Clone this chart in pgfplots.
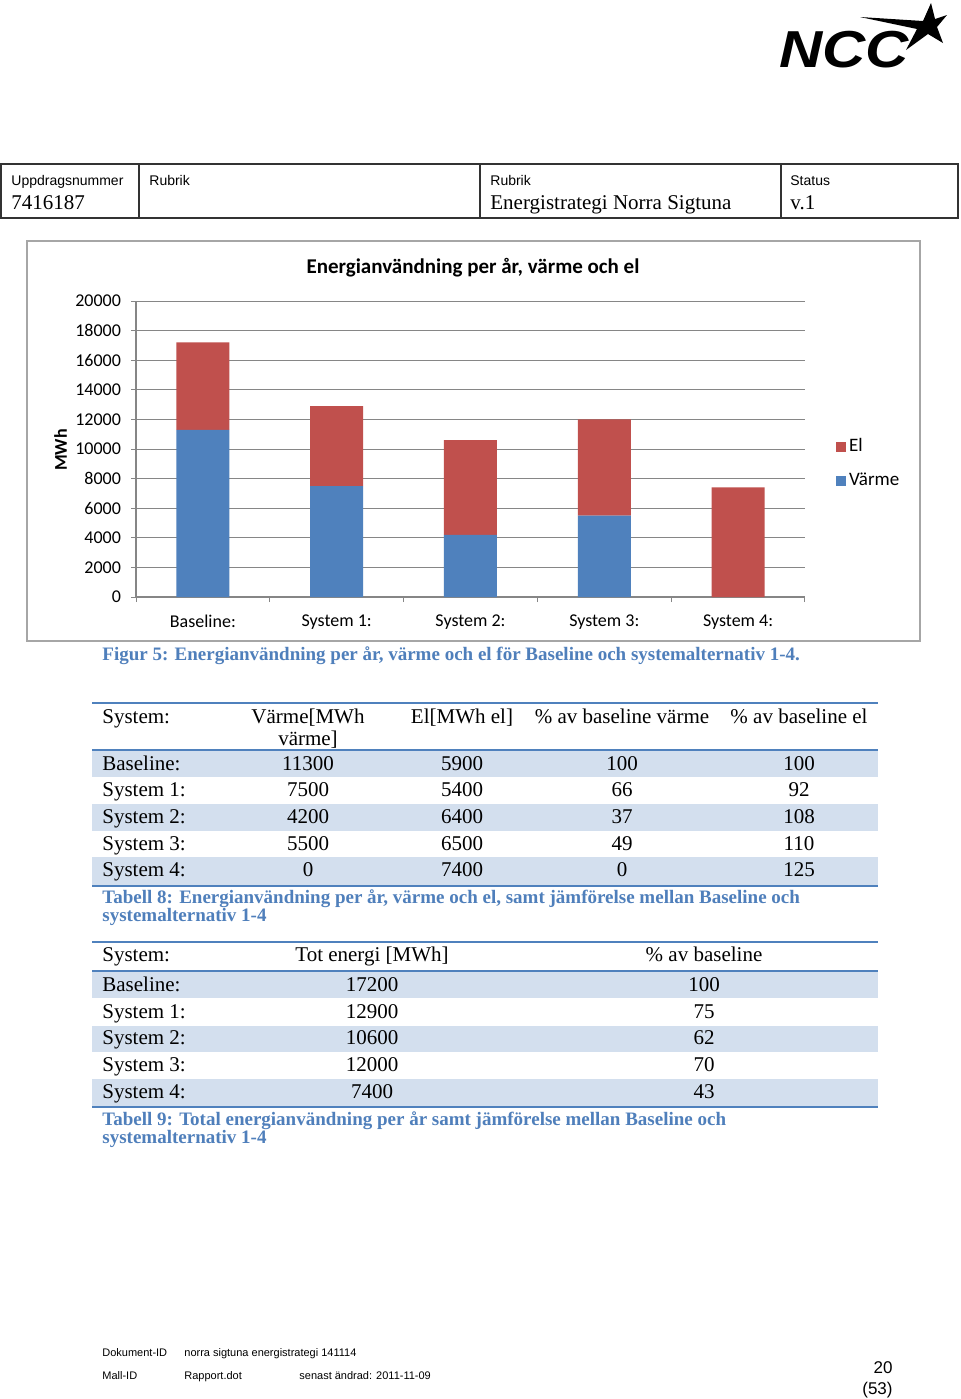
\documentclass[border=0pt]{standalone}
\usepackage{fontspec}
\setmainfont{Liberation Serif}
\newfontfamily\carlito{Carlito}
\newfontfamily\arial{Liberation Sans}
\usepackage{pgfplots}
\pgfplotsset{compat=1.18}
\definecolor{blueA}{HTML}{4F81BD}
\definecolor{redA}{HTML}{C0504D}
\definecolor{band}{HTML}{D3DFEE}
\definecolor{gridc}{HTML}{868686}
\definecolor{capc}{HTML}{4F7FBB}
\definecolor{framec}{HTML}{A6A6A6}
\newcommand\tabf{\fontsize{10.5pt}{12.5pt}\selectfont}
\newcommand\capf{\bfseries\fontsize{9.5pt}{11pt}\selectfont}
\begin{document}
\begin{tikzpicture}[x=0.5pt,y=-0.5pt,
  tn/.style={inner sep=0pt, text height=0.68em, text depth=0pt},
  tw/.style={tn, anchor=west},
  tc/.style={tn, anchor=center}]
\fill[white] (0,0) rectangle (960,1399);
% ---------- logo ----------
\node[anchor=base west, inner sep=0pt, font=\arial\bfseries\itshape\fontsize{26pt}{26pt}\selectfont, xscale=1.15] at (779,67) {NCC};
\fill[black] (860,17) -- (923,21) -- (931,3) -- (935,19) -- (947,15) -- (937,27) -- (943,43) -- (928,34) -- (906,50) -- (917,29) -- cycle;
% ---------- header table ----------
\draw[black!80, line width=0.65pt] (1,164) rectangle (958,218);
\draw[black!80, line width=0.65pt] (139,164) -- (139,218) (480,164) -- (480,218) (781,164) -- (781,218);
\begin{scope}[font=\arial\fontsize{7pt}{8pt}\selectfont]
\node[tw] at (11,179) {Uppdragsnummer};
\node[tw] at (149,179) {Rubrik};
\node[tw] at (490,179) {Rubrik};
\node[tw] at (790,179) {Status};
\end{scope}
\begin{scope}[font=\tabf]
\node[tw] at (11,203) {7416187};
\node[tw] at (490,203) {Energistrategi Norra Sigtuna};
\node[tw] at (790,203) {v.1};
\end{scope}
% ---------- chart frame ----------
\draw[framec, line width=0.7pt] (27,241) rectangle (920,641);
\node[tc, font=\carlito\bfseries\fontsize{10.5pt}{12pt}\selectfont] at (473,267) {Energianvändning per år, värme och el};
\node[tc, rotate=90, font=\carlito\bfseries\fontsize{9pt}{11pt}\selectfont] at (60,450) {MWh};
\begin{axis}[
  at={(68pt,-298.5pt)}, anchor=south west,
  scale only axis, width=334.5pt, height=148pt,
  ybar stacked, bar width=26.5pt,
  xmin=-0.5, xmax=4.5, ymin=0, ymax=20000,
  xtick={0,1,2,3,4},
  xticklabels={Baseline:,System 1:,System 2:,System 3:,System 4:},
  major x tick style={draw=none},
  extra x ticks={-0.5,0.5,1.5,2.5,3.5,4.5},
  extra x tick labels={},
  extra x tick style={major tick length=2.5pt, tick align=outside, major x tick style={draw=gridc}},
  ytick={0,2000,...,20000},
  ymajorgrids, grid style={gridc, line width=0.5pt},
  axis x line*=bottom, axis y line*=left,
  axis line style={gridc, line width=0.6pt},
  tick align=outside, major tick length=2.5pt, tick style={gridc, line width=0.5pt},
  scaled y ticks=false,
  /pgf/number format/1000 sep={},
  /pgf/number format/assume math mode=true,
  ticklabel style={font=\carlito\fontsize{9pt}{11pt}\selectfont, text=black},
  yticklabel style={xshift=-1.5pt},
  xticklabel style={yshift=-3pt},
  legend style={at={(1.046,0.451)}, anchor=west, draw=none, fill=none,
    font=\carlito\fontsize{9.5pt}{11pt}\selectfont, row sep=6pt, inner sep=0pt,
    nodes={inner sep=1.5pt, xshift=1pt}},
  legend cell align=left, reverse legend,
  legend image code/.code={\fill[#1,draw=none] (0pt,-2.5pt) rectangle (5pt,2.5pt);},
]
\addplot[fill=blueA, draw=none] coordinates {(0,11300) (1,7500) (2,4200) (3,5500) (4,0)};
\addplot[fill=redA, draw=none] coordinates {(0,5900) (1,5400) (2,6400) (3,6500) (4,7400)};
\legend{Värme, El}
\end{axis}
\node[tw, text=capc, font=\capf] at (102,654) {Figur 5: Energianvändning per år, värme och el för Baseline och systemalternativ 1-4.};
% ---------- table 8 ----------
\fill[band] (92,750.5) rectangle (878,777);
\fill[band] (92,804) rectangle (878,830.5);
\fill[band] (92,857) rectangle (878,885);
\draw[blueA, line width=1pt] (92,703) -- (878,703);
\draw[blueA, line width=1pt] (92,750) -- (878,750);
\draw[blueA, line width=1pt] (92,886) -- (878,886);
\begin{scope}[font=\tabf]
\node[tw] at (102,716.5) {System:};
\node[tc] at (308,716.5) {Värme[MWh};
\node[tc] at (308,739) {värme]};
\node[tc] at (462,716.5) {El[MWh el]};
\node[tc] at (622,716.5) {\% av baseline värme};
\node[tc] at (799,716.5) {\% av baseline el};
\foreach \n/\y/\a/\b/\c/\d in {Baseline:/763.5/11300/5900/100/100,
    System 1:/790/7500/5400/66/92,
    System 2:/817/4200/6400/37/108,
    System 3:/843.5/5500/6500/49/110,
    System 4:/870/0/7400/0/125}{
  \node[tw] at (102,\y) {\n};
  \node[tc] at (308,\y) {\a};
  \node[tc] at (462,\y) {\b};
  \node[tc] at (622,\y) {\c};
  \node[tc] at (799,\y) {\d};
}
\end{scope}
\node[tw, text=capc, font=\capf] at (102,896.5) {Tabell 8: Energianvändning per år, värme och el, samt jämförelse mellan Baseline och};
\node[tw, text=capc, font=\capf] at (102,915) {systemalternativ 1-4};
% ---------- table 9 ----------
\fill[band] (92,971) rectangle (878,998.3);
\fill[band] (92,1025.7) rectangle (878,1052.3);
\fill[band] (92,1079) rectangle (878,1105.7);
\draw[blueA, line width=1pt] (92,941.5) -- (878,941.5);
\draw[blueA, line width=1pt] (92,970.5) -- (878,970.5);
\draw[blueA, line width=1pt] (92,1106.5) -- (878,1106.5);
\begin{scope}[font=\tabf]
\node[tw] at (102,955) {System:};
\node[tc] at (372,955) {Tot energi [MWh]};
\node[tc] at (704,955) {\% av baseline};
\foreach \n/\y/\a/\b in {Baseline:/984.5/17200/100,
    System 1:/1011.5/12900/75,
    System 2:/1038/10600/62,
    System 3:/1064.5/12000/70,
    System 4:/1091.5/7400/43}{
  \node[tw] at (102,\y) {\n};
  \node[tc] at (372,\y) {\a};
  \node[tc] at (704,\y) {\b};
}
\end{scope}
\node[tw, text=capc, font=\capf] at (102,1118.5) {Tabell 9: Total energianvändning per år samt jämförelse mellan Baseline och};
\node[tw, text=capc, font=\capf] at (102,1137) {systemalternativ 1-4};
% ---------- footer ----------
\begin{scope}[font=\arial\fontsize{5.5pt}{6.5pt}\selectfont]
\node[tw] at (102,1350) {Dokument-ID};
\node[tw] at (184,1350) {norra sigtuna energistrategi 141114};
\node[tw] at (102,1373) {Mall-ID};
\node[tw] at (184,1373) {Rapport.dot};
\node[tw] at (299,1373) {senast ändrad: 2011-11-09};
\end{scope}
\begin{scope}[font=\arial\fontsize{8.5pt}{10pt}\selectfont]
\node[tn, anchor=east] at (893,1367) {20};
\node[tn, anchor=east] at (893,1388) {(53)};
\end{scope}
\end{tikzpicture}
\end{document}
